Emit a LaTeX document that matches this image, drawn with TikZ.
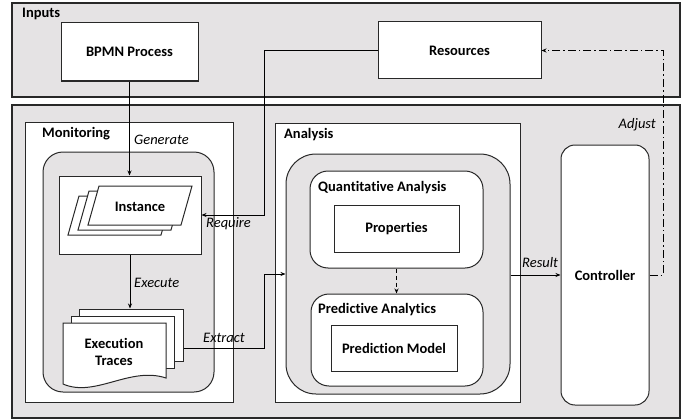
\documentclass[tikz,border=0pt]{standalone}
\usepackage{fontspec}
\setmainfont{Carlito}[Ligatures=NoCommon]
\usetikzlibrary{arrows.meta,calc}
\definecolor{panelgray}{RGB}{229,227,228}
\definecolor{edge}{RGB}{40,40,40}
\begin{document}
\begin{tikzpicture}[x=1pt,y=-1pt,
  font=\fontsize{14.5}{16}\selectfont,
  panel/.style={draw=edge, fill=panelgray, line width=1.3pt, rectangle, inner sep=0pt},
  wbox/.style={draw=edge, fill=white, line width=1pt, rectangle, inner sep=0pt, font=\fontsize{14.5}{16}\selectfont\bfseries},
  gbox/.style={draw=edge, fill=panelgray, line width=1pt, rectangle, inner sep=0pt},
  ttl/.style={font=\fontsize{14.5}{16}\selectfont\bfseries, inner sep=0pt, anchor=base west},
  lbl/.style={font=\fontsize{14.5}{16}\selectfont\itshape, inner sep=0pt},
  conn/.style={draw=black, line width=0.9pt, -{Stealth[length=5pt,width=4pt]}},
  doc/.style={draw=edge, fill=white, line width=1pt}
]
\useasboundingbox (0,0) rectangle (688,420);

% outer panels
\node[panel, minimum width=668pt, minimum height=94pt] (inputs) at (346,50) {};
\node[ttl] (inputsT) at (22,18) {Inputs};
\node[panel, minimum width=668pt, minimum height=313pt] (main) at (346,261.5) {};

% inputs
\node[wbox, minimum width=137pt, minimum height=58pt] (bpmn) at (129.5,52) {BPMN Process};
\node[wbox, minimum width=163pt, minimum height=57pt] (res) at (459.5,50.5) {Resources};

% monitoring
\node[wbox, minimum width=208pt, minimum height=280pt] (mon) at (129,262) {};
\node[ttl] (monT) at (42,137) {Monitoring};
\node[gbox, rounded corners=20pt, minimum width=171pt, minimum height=240pt] (mongray) at (128.5,272) {};
\node[wbox, minimum width=142pt, minimum height=78pt] (instbox) at (130,215) {};
\draw[doc] (79,196) -- (172,196) -- (161,235) -- (68,235) -- cycle;
\draw[doc] (89,191) -- (182,191) -- (171,230) -- (78,230) -- cycle;
\draw[doc] (99,186) -- (192,186) -- (181,225) -- (88,225) -- cycle;
\node[font=\fontsize{14.5}{16}\selectfont\bfseries] (inst) at (140,207) {Instance};

\node[doc, rectangle, inner sep=0pt, minimum width=104pt, minimum height=52pt] (tracesback) at (131,335) {};
\node[doc, rectangle, inner sep=0pt, minimum width=103pt, minimum height=52pt] (tracesmid) at (122.5,342) {};
\draw[doc] (63,323) -- (166,323) -- (166,378) .. controls (130,366) and (95,398) .. (63,384) -- cycle;
\node[font=\fontsize{14.5}{16}\selectfont\bfseries, align=center] (traces) at (114,352) {Execution\\[1pt]Traces};

% analysis
\node[wbox, minimum width=245pt, minimum height=279pt] (ana) at (397.5,262.5) {};
\node[ttl] (anaT) at (284,138) {Analysis};
\node[gbox, rounded corners=30pt, minimum width=224pt, minimum height=240pt] (angray) at (398,274) {};
\node[wbox, rounded corners=18pt, minimum width=173pt, minimum height=97pt] (quant) at (396.5,219.5) {};
\node[ttl] (quantT) at (318,191) {Quantitative Analysis};
\node[wbox, minimum width=125pt, minimum height=47pt] (props) at (396.5,228.5) {Properties};
\node[wbox, rounded corners=18pt, minimum width=172pt, minimum height=92pt] (pred) at (397,340) {};
\node[ttl] (predT) at (318,313) {Predictive Analytics};
\node[wbox, minimum width=126pt, minimum height=46pt] (pmodel) at (394,348) {Prediction Model};

% controller
\node[wbox, rounded corners=14pt, minimum width=88pt, minimum height=260pt] (ctrl) at (605,275) {Controller};

% bend coordinates
\coordinate (bendR) at (264,0);
\coordinate (bendA) at (663,0);

% connectors
\draw[conn] (bpmn.south) -- (bpmn.south |- instbox.north);
\node[lbl, anchor=base west] (genL) at (134,144) {Generate};

\draw[conn] (res.west) -- (res.west -| bendR) |- (instbox.east);
\node[lbl, anchor=base west] (reqL) at (206,227) {Require};

\draw[conn] (instbox.south) -- (instbox.south |- tracesback.north);
\node[lbl, anchor=base west] (exeL) at (134,287) {Execute};

\draw[conn] ([yshift=-13pt]tracesback.east) -- ([yshift=-13pt]tracesback.east -| bendR) |- (angray.west);
\node[lbl, anchor=base west] (extL) at (203,342) {Extract};

\draw[conn, dashed, dash pattern=on 4pt off 3pt] (quant.south) -- (quant.south |- pred.north);

\draw[conn] (ctrl.west -| angray.east) -- (ctrl.west);
\node[lbl, anchor=base west] (resL) at (522,267) {Result};

\draw[conn, dash pattern=on 8pt off 3pt on 1.5pt off 3pt] (ctrl.east) -- (ctrl.east -| bendA) |- (res.east);
\node[lbl, anchor=base east] (adjL) at (656,128) {Adjust};
\end{tikzpicture}
\end{document}
